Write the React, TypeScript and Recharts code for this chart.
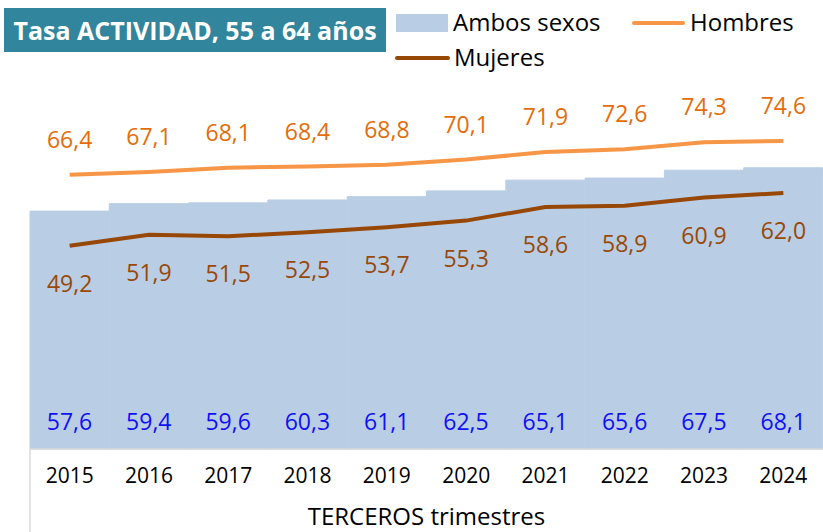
import React from 'react';
import { ComposedChart, Bar, Line, XAxis, YAxis, LabelList } from 'recharts';

const years = ['2015', '2016', '2017', '2018', '2019', '2020', '2021', '2022', '2023', '2024'];
const ambos = [57.6, 59.4, 59.6, 60.3, 61.1, 62.5, 65.1, 65.6, 67.5, 68.1];
const hombres = [66.4, 67.1, 68.1, 68.4, 68.8, 70.1, 71.9, 72.6, 74.3, 74.6];
const mujeres = [49.2, 51.9, 51.5, 52.5, 53.7, 55.3, 58.6, 58.9, 60.9, 62.0];

const data = years.map((y, i) => ({ year: y, ambos: ambos[i], hombres: hombres[i], mujeres: mujeres[i] }));

const FONT = '"Open Sans", sans-serif';
const fmt = (v: number) => v.toFixed(1).replace('.', ',');

const W = 823;
const H = 532;
const ML = 30;
const MT = 36;
const XH = 83;
const band = (W - ML) / years.length;

const BarLabel = (p: any) => (
  <text x={p.x + p.width / 2} y={p.y + p.height - 25} textAnchor="middle" dominantBaseline="middle"
    fill="#1010F5" fontSize={23} fontFamily={FONT}>{fmt(p.value)}</text>
);
const HLabel = (p: any) => (
  <text x={p.x} y={p.y - 33} textAnchor="middle" dominantBaseline="middle"
    fill="#E46C0A" fontSize={23} fontFamily={FONT}>{fmt(p.value)}</text>
);
const MLabel = (p: any) => (
  <text x={p.x} y={p.y + 40} textAnchor="middle" dominantBaseline="middle"
    fill="#984807" fontSize={23} fontFamily={FONT}>{fmt(p.value)}</text>
);

const Tick = (p: any) => (
  <g>
    {p.index === 0 && (
      <line x1={p.x - band / 2} y1={H - XH} x2={p.x - band / 2} y2={H} stroke="#D9D9D9" strokeWidth={1.5} />
    )}
    <text x={p.x} y={477} textAnchor="middle" dominantBaseline="middle" fill="#000" fontSize={21} fontFamily={FONT}>
      {p.payload.value}
    </text>
  </g>
);

const AxisTitle = (p: any) => {
  const vb = p.viewBox || {};
  return (
    <text x={vb.x + vb.width / 2} y={519} textAnchor="middle" dominantBaseline="middle" fill="#000" fontSize={24} fontFamily={FONT}>
      TERCEROS trimestres
    </text>
  );
};

export default function App() {
  return (
    <div style={{ position: 'absolute', left: 0, top: 0, width: W, height: H, background: '#fff', fontFamily: FONT }}>
      <ComposedChart width={W} height={H} data={data} margin={{ top: MT, right: 0, left: ML, bottom: 0 }} barCategoryGap={0}>
        <XAxis dataKey="year" height={XH} axisLine={{ stroke: '#D9D9D9', strokeWidth: 1.5 }} tickLine={false}
          tick={<Tick />} interval={0} label={<AxisTitle />} />
        <YAxis hide domain={[0, 100]} />
        <Bar dataKey="ambos" fill="#B9CDE5" stroke="#B9CDE5" strokeWidth={1} isAnimationActive={false}>
          <LabelList dataKey="ambos" content={<BarLabel />} />
        </Bar>
        <Line dataKey="hombres" stroke="#F79646" strokeWidth={4} dot={false} isAnimationActive={false}>
          <LabelList dataKey="hombres" content={<HLabel />} />
        </Line>
        <Line dataKey="mujeres" stroke="#974706" strokeWidth={4} dot={false} isAnimationActive={false}>
          <LabelList dataKey="mujeres" content={<MLabel />} />
        </Line>
      </ComposedChart>
      <div style={{ position: 'absolute', left: 4, top: 8, width: 382, height: 44, background: '#31859C', color: '#fff',
        fontWeight: 700, fontSize: 25, lineHeight: '44px', textAlign: 'center', whiteSpace: 'nowrap' }}>
        Tasa ACTIVIDAD, 55 a 64 años
      </div>
      <div style={{ position: 'absolute', left: 396, top: 14, width: 52, height: 18, background: '#B9CDE5' }} />
      <div style={{ position: 'absolute', left: 453, top: 6, fontSize: 24, lineHeight: '32px', color: '#000' }}>Ambos sexos</div>
      <div style={{ position: 'absolute', left: 632, top: 21, width: 53, height: 4, borderRadius: 2, background: '#F79646' }} />
      <div style={{ position: 'absolute', left: 690, top: 6, fontSize: 24, lineHeight: '32px', color: '#000' }}>Hombres</div>
      <div style={{ position: 'absolute', left: 395, top: 56, width: 55, height: 4, borderRadius: 2, background: '#974706' }} />
      <div style={{ position: 'absolute', left: 454, top: 41, fontSize: 24, lineHeight: '32px', color: '#000' }}>Mujeres</div>
    </div>
  );
}
